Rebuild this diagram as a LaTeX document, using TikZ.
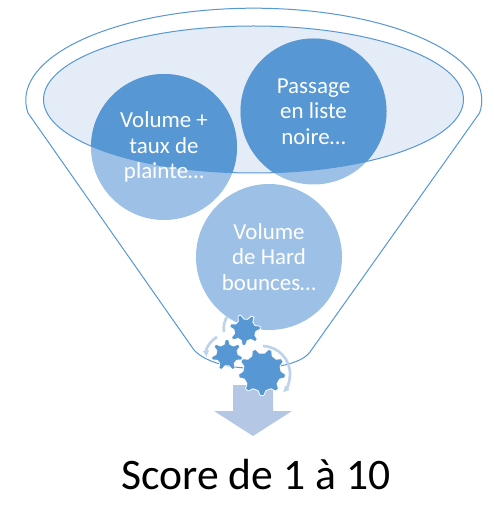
\documentclass[tikz,border=0pt]{standalone}
\usepackage{fontspec}
\setmainfont{Carlito}
\usetikzlibrary{arrows.meta}
\definecolor{fdark}{HTML}{5797D3}
\definecolor{flight}{HTML}{9DC1E6}
\definecolor{fpale}{HTML}{E4ECF7}
\definecolor{farrow}{HTML}{B4C8E6}
\definecolor{fring}{HTML}{BDD3EC}
\tikzset{
  funnelline/.style={draw=fdark,line width=0.75pt},
  disc/.style={circle,fill=flight,minimum size=109.5pt,inner sep=0pt},
  disctext/.style={text=white,align=center,inner sep=0pt,font=\fontsize{17.2pt}{19.2pt}\selectfont},
  ringline/.style={draw=fring,line width=2pt},
  ringarrow/.style={ringline,-{Latex[length=5pt,width=5pt]}},
  gearfill/.style={fill=fdark,draw=white,line width=0.6pt,line join=round},
}
\newcommand{\gearshape}[6]{% cx cy Rout Rin teeth phase
  \pgfmathsetmacro{\gearstep}{360/#5}
  \path[gearfill] ({#1+#4*cos(#6-0.30*\gearstep)},{#2+#4*sin(#6-0.30*\gearstep)})
  \foreach \k in {1,...,#5} {
    -- ({#1+#3*cos(#6+(\k-1-0.11)*\gearstep)},{#2+#3*sin(#6+(\k-1-0.11)*\gearstep)})
    -- ({#1+#3*cos(#6+(\k-1+0.11)*\gearstep)},{#2+#3*sin(#6+(\k-1+0.11)*\gearstep)})
    -- ({#1+#4*cos(#6+(\k-1+0.30)*\gearstep)},{#2+#4*sin(#6+(\k-1+0.30)*\gearstep)})
    -- ({#1+#4*cos(#6+(\k-1+0.70)*\gearstep)},{#2+#4*sin(#6+(\k-1+0.70)*\gearstep)})
  } -- cycle;
}
\begin{document}
\begin{tikzpicture}[x=0.75pt,y=-0.75pt]
\useasboundingbox (0,0) rectangle (493,505);
\fill[white] (0,0) rectangle (493,505);
% funnel
\draw[funnelline,line join=round] (28,113) arc [start angle=172,end angle=368,x radius=228,y radius=92]
  -- (310,352)
  .. controls (296,372) and (218,376) .. (194,350) -- cycle;
% pale ellipse
\fill[fpale] (253.5,99.5) ellipse [x radius=210,y radius=73.5];
% discs
\node[disc] (a) at (164,147) {};
\node[disc] (b) at (313.5,111.5) {};
\node[disc] (c) at (269,257) {};
\begin{scope}
  \clip (253.5,99.5) ellipse [x radius=210,y radius=73.5];
  \fill[fdark] (a.center) circle (73);
  \fill[fdark] (b.center) circle (73);
\end{scope}
\draw[funnelline] (253.5,99.5) ellipse [x radius=210,y radius=73.5];
\node[disctext] at (a.center) {Volume +\\taux de\\plainte…};
\node[disctext] at (b.center) {Passage\\en liste\\noire…};
\node[disctext] at (c.center) {Volume\\de Hard\\bounces…};
% arrow
\fill[farrow] (233,385) -- (273,385) -- (273,411) -- (292,411) -- (253,436) -- (214,411) -- (233,411) -- cycle;
% gears
\gearshape{262}{372}{23.5}{19}{9}{-70}
\gearshape{227}{355}{15.5}{11}{7}{-90}
\gearshape{245}{330}{15.5}{11}{7}{-60}
% rings
\draw[ringarrow] (263,346) arc [start angle=-88,end angle=42,radius=28];
\draw[ringarrow] (217,337) arc [start angle=-120,end angle=-186,radius=21];
\draw[ringline] (224,332) arc [start angle=170,end angle=215,radius=21];
% title
\node[anchor=base,inner sep=0pt,text=black,font=\fontsize{32.7pt}{36pt}\selectfont] (score) at (256,489) {Score de 1 à 10};
\end{tikzpicture}
\end{document}
